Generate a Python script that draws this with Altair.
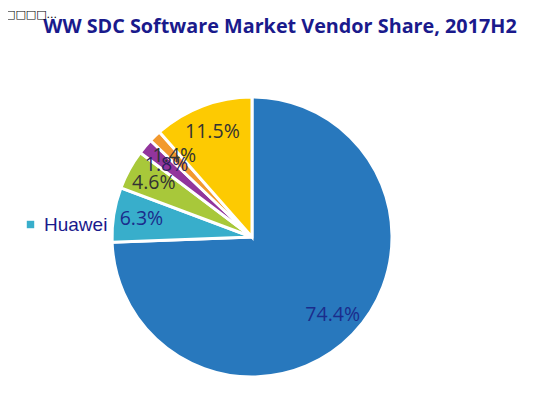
import altair as alt
import pandas as pd

vendors = ["Dell EMC", "Huawei", "Vendor C", "Vendor D", "Vendor E", "Others"]
shares = [74.4, 6.3, 4.6, 1.8, 1.4, 11.5]
labels = ["74.4%", "6.3%", "4.6%", "1.8%", "1.4%", "11.5%"]
colors = ["#2878bd", "#38aecb", "#a8c83a", "#92359c", "#f2992e", "#fdca02"]
label_colors = ["#1b2c8c", "#1b2c8c", "#333333", "#2a1f5e", "#333333", "#333333"]

df = pd.DataFrame({
    "vendor": vendors,
    "share": shares,
    "label": labels,
    "order": list(range(len(vendors))),
    "lcolor": label_colors,
})

CX, CY, R = 244, 229, 140

base = alt.Chart(df).encode(
    theta=alt.Theta("share:Q", stack=True),
    order=alt.Order("order:Q"),
)

pie = base.mark_arc(outerRadius=R, stroke="white", strokeWidth=3).encode(
    x=alt.value(CX), y=alt.value(CY),
    color=alt.Color("vendor:N", scale=alt.Scale(domain=vendors, range=colors),
                    legend=alt.Legend(values=["Huawei"], title=None, orient="none",
                                      legendX=13, legendY=207, symbolType="square",
                                      symbolSize=55, labelFontSize=19, labelColor="#1a1a8c",
                                      labelFont="Liberation Sans", padding=0, labelOffset=4,
                                      symbolStrokeWidth=0)),
)

text = base.mark_text(radius=112, fontSize=19.5, font="Open Sans").encode(
    x=alt.value(CX), y=alt.value(CY),
    text="label:N",
    color=alt.Color("lcolor:N", scale=None),
)

title_df = pd.DataFrame({"t": ["WW SDC Software Market Vendor Share, 2017H2"]})
title = alt.Chart(title_df).mark_text(font="Open Sans", fontWeight="bold", fontSize=19.8,
                                      color="#1a1a8c", align="center", baseline="middle").encode(
    x=alt.value(272), y=alt.value(19), text="t:N")

tofu_df = pd.DataFrame({"t": ["□□□□..."]})
tofu = alt.Chart(tofu_df).mark_text(font="DejaVu Sans", fontSize=11, color="#000000",
                                    align="left", baseline="alphabetic").encode(
    x=alt.value(-3), y=alt.value(10), text="t:N")

chart = alt.layer(pie, text, title, tofu).properties(
    width=531, height=381, padding=0,
    autosize=alt.AutoSizeParams(type="none"),
).configure_view(stroke=None)

chart.save("out.html", embed_options={"renderer": "svg", "actions": False})
